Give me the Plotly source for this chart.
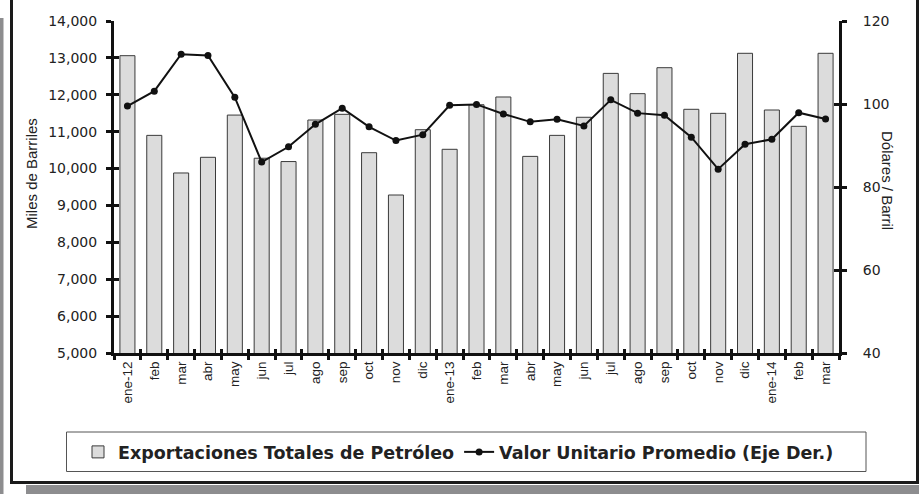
import plotly.graph_objects as go

keys = [f"m{i:02d}" for i in range(27)]
month_labels = ["ene-12", "feb", "mar", "abr", "may", "jun", "jul", "ago", "sep", "oct", "nov", "dic",
                "ene-13", "feb", "mar", "abr", "may", "jun", "jul", "ago", "sep", "oct", "nov", "dic",
                "ene-14", "feb", "mar"]
exportaciones = [13060, 10900, 9880, 10305, 11450, 10280, 10190, 11316, 11470, 10430, 9283, 11053,
                 10522, 11730, 11940, 10330, 10900, 11390, 12580, 12030, 12734, 11606, 11497, 13124,
                 11587, 11145, 13124]
valor_unitario = [99.5, 103.1, 112.0, 111.7, 101.6, 86.0, 89.7, 95.1, 99.0, 94.5, 91.2, 92.6,
                  99.7, 99.9, 97.6, 95.7, 96.3, 94.7, 101.0, 97.8, 97.3, 92.0, 84.3, 90.3,
                  91.5, 97.9, 96.4]
left_ticks = [5000, 6000, 7000, 8000, 9000, 10000, 11000, 12000, 13000, 14000]
right_ticks = [40, 60, 80, 100, 120]

FONT = "Liberation Sans, Arial, sans-serif"
WIDE = "DejaVu Sans, Verdana, sans-serif"
L, R, T, B = 114, 80, 21, 141
W, H = 919, 494
PW, PH = W - L - R, H - T - B


def px(x):
    return (x - L) / PW


def py(y):
    return (H - B - y) / PH


fig = go.Figure()
fig.add_trace(go.Bar(
    x=keys, y=exportaciones, name="<b>Exportaciones Totales de Petróleo</b>",
    marker=dict(color="#dcdcdc", line=dict(color="#3a3a3a", width=1)),
    width=0.56, yaxis="y"))
fig.add_trace(go.Scatter(
    x=keys, y=valor_unitario, name="<b>Valor Unitario Promedio (Eje Der.)</b>",
    mode="lines+markers", line=dict(color="#111111", width=2),
    marker=dict(color="#111111", size=7), yaxis="y2"))

xtick_font = dict(family=FONT, size=13.5, color="#222")
ytick_font = dict(family=WIDE, size=14, color="#222")
fig.update_layout(
    width=W, height=H, margin=dict(l=L, r=R, t=T, b=B),
    paper_bgcolor="white", plot_bgcolor="white",
    font=dict(family=FONT, color="#222"),
    showlegend=True,
    legend=dict(orientation="h", x=px(78), xanchor="left", y=py(452), yanchor="middle",
                font=dict(family=WIDE, size=17.5, color="#222"), bgcolor="rgba(0,0,0,0)",
                borderwidth=0, itemwidth=30, traceorder="normal"),
    xaxis=dict(type="category", categoryorder="array", categoryarray=keys,
               tickmode="array", tickvals=keys, ticktext=month_labels,
               tickson="boundaries", ticks="outside", ticklen=4, tickwidth=3, tickcolor="#111",
               tickangle=-90, tickfont=xtick_font, showline=True, linecolor="#111", linewidth=3,
               showgrid=False, zeroline=False, range=[-0.5, 26.5]),
    xaxis2=dict(overlaying="x", range=[-0.5, 26.5], tickmode="array",
                tickvals=[i - 0.5 for i in range(28)], ticks="inside", ticklen=4, tickwidth=3,
                tickcolor="#111", showticklabels=False, showline=False, showgrid=False,
                zeroline=False, side="bottom", anchor="y"),
    yaxis=dict(range=[5000, 14000], tickvals=left_ticks, tickformat=",d",
               ticks="outside", ticklen=5, tickwidth=3, tickcolor="#111",
               tickfont=ytick_font, showline=True, linecolor="#111", linewidth=3,
               showgrid=False, zeroline=False, ticklabelstandoff=6),
    yaxis2=dict(range=[40, 120], tickvals=right_ticks, overlaying="y", side="right",
                ticks="outside", ticklen=5, tickwidth=3, tickcolor="#111",
                tickfont=ytick_font, showline=True, linecolor="#111", linewidth=3,
                showgrid=False, zeroline=False, anchor="x", ticklabelstandoff=13),
    yaxis3=dict(range=[5000, 14000], tickvals=left_ticks, overlaying="y", side="left",
                ticks="inside", ticklen=5, tickwidth=3, tickcolor="#111",
                showticklabels=False, showline=False, showgrid=False, zeroline=False, anchor="x"),
    yaxis4=dict(range=[40, 120], tickvals=right_ticks, overlaying="y", side="right",
                ticks="inside", ticklen=5, tickwidth=3, tickcolor="#111",
                showticklabels=False, showline=False, showgrid=False, zeroline=False, anchor="x"),
)

# invisible helper traces so overlay axes are drawn
fig.add_trace(go.Scatter(x=[0], y=[None], xaxis="x2", yaxis="y3", showlegend=False,
                         hoverinfo="skip"))
fig.add_trace(go.Scatter(x=[0], y=[None], xaxis="x2", yaxis="y4", showlegend=False,
                         hoverinfo="skip"))

fig.add_annotation(text="Miles de Barriles", x=px(31), y=py(174), xref="paper", yref="paper",
                   xanchor="center", yanchor="middle",
                   textangle=-90, showarrow=False, font=dict(family=FONT, size=15, color="#222"))
fig.add_annotation(text="Dólares / Barril", x=px(888), y=py(180), xref="paper", yref="paper",
                   xanchor="center", yanchor="middle",
                   textangle=90, showarrow=False, font=dict(family=FONT, size=15, color="#222"))

shapes = [
    dict(type="rect", xref="paper", yref="paper", x0=px(0), x1=px(3.5), y0=py(494), y1=py(18),
         fillcolor="#8d8d8f", line=dict(width=0), layer="below"),
    dict(type="rect", xref="paper", yref="paper", x0=px(26), x1=px(919), y0=py(494), y1=py(485),
         fillcolor="#8d8d8f", line=dict(width=0), layer="below"),
    dict(type="rect", xref="paper", yref="paper", x0=px(11.5), x1=px(917.5), y0=py(482.5), y1=py(-3),
         line=dict(color="#1a1a1a", width=3), fillcolor="rgba(0,0,0,0)"),
    dict(type="rect", xref="paper", yref="paper", x0=px(66.5), x1=px(866), y0=py(471.5), y1=py(432),
         line=dict(color="#555", width=1), fillcolor="rgba(0,0,0,0)"),
]
fig.update_layout(shapes=shapes)

fig.write_html("out.html", config={"displayModeBar": False},
               post_script="document.body.style.margin='0';document.body.style.padding='0';")
